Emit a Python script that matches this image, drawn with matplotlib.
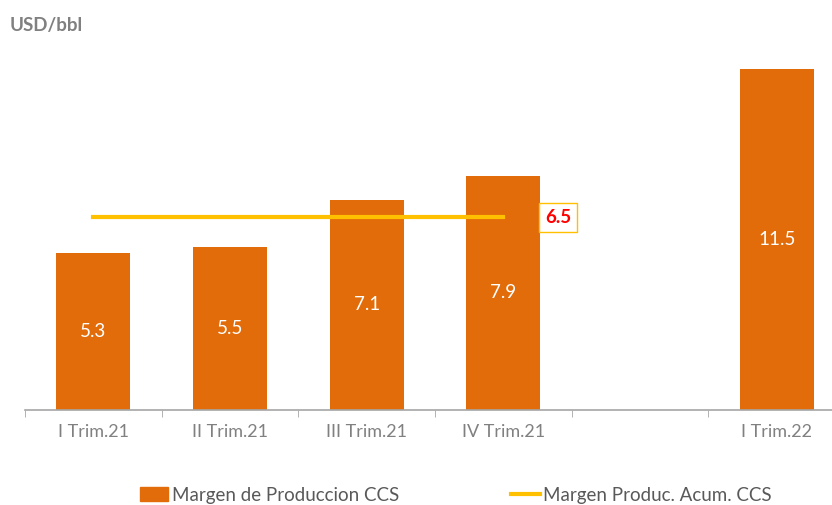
import numpy as np
import matplotlib.pyplot as plt
from matplotlib.lines import Line2D
from matplotlib.patches import Patch

categories = ['I Trim.21', 'II Trim.21', 'III Trim.21', 'IV Trim.21', '', 'I Trim.22']
margen = [5.3, 5.5, 7.1, 7.9, np.nan, 11.5]
acum_x = [0, 3]
acum_val = [6.5, 6.5]

orange = '#E36C0A'
gold = '#FFC000'
grey = '#808080'

plt.rcParams['font.family'] = ['Lato', 'DejaVu Sans']

fig = plt.figure(figsize=(8.32, 5.05), dpi=100)
ax = fig.add_axes([25 / 832, 95 / 505, 820 / 832, 400 / 505])

x = np.arange(len(categories))
ax.bar(x, margen, width=0.54, color=orange, zorder=2)
for xi, v in zip(x, margen):
    if not np.isnan(v):
        ax.text(xi, v / 2, f'{v:.1f}', ha='center', va='center', color='white', fontsize=13.5, zorder=3)

ax.plot(acum_x, acum_val, color=gold, linewidth=3, zorder=4)
ax.annotate(f'{acum_val[-1]:.1f}', xy=(acum_x[-1], acum_val[-1]), xytext=(3.40, acum_val[-1]),
            ha='center', va='center', color='red', fontsize=13.5, fontweight='bold',
            bbox=dict(boxstyle='square,pad=0.3', fc='white', ec=gold, lw=1), zorder=5)

ax.set_xlim(-0.5, 5.5)
ax.set_ylim(0, 13.5)
ax.set_xticks(x)
ax.set_xticklabels(categories, color=grey, fontsize=13)
ax.set_xticks(np.arange(-0.5, 6, 1), minor=True)
ax.tick_params(axis='x', which='major', length=0, pad=10)
ax.tick_params(axis='x', which='minor', length=5, color='#A6A6A6', direction='out')
ax.set_yticks([])
for s in ['top', 'right', 'left']:
    ax.spines[s].set_visible(False)
ax.spines['bottom'].set_color('#A6A6A6')
ax.spines['bottom'].set_linewidth(1.2)

fig.text(10 / 832, 1 - 25 / 505, 'USD/bbl', color=grey, fontsize=13.5, fontweight='bold', va='center')

handles = [Patch(color=orange, label='Margen de Produccion CCS'),
           Line2D([0], [0], color=gold, lw=3, label='Margen Produc. Acum. CCS')]
fig.legend(handles=handles, loc='center', bbox_to_anchor=(0.548, 1 - 495 / 505), ncol=2, frameon=False,
           fontsize=13.5, labelcolor='#595959', columnspacing=6, handlelength=1.5, handletextpad=0.2)

fig.savefig('out.png', dpi=100)
